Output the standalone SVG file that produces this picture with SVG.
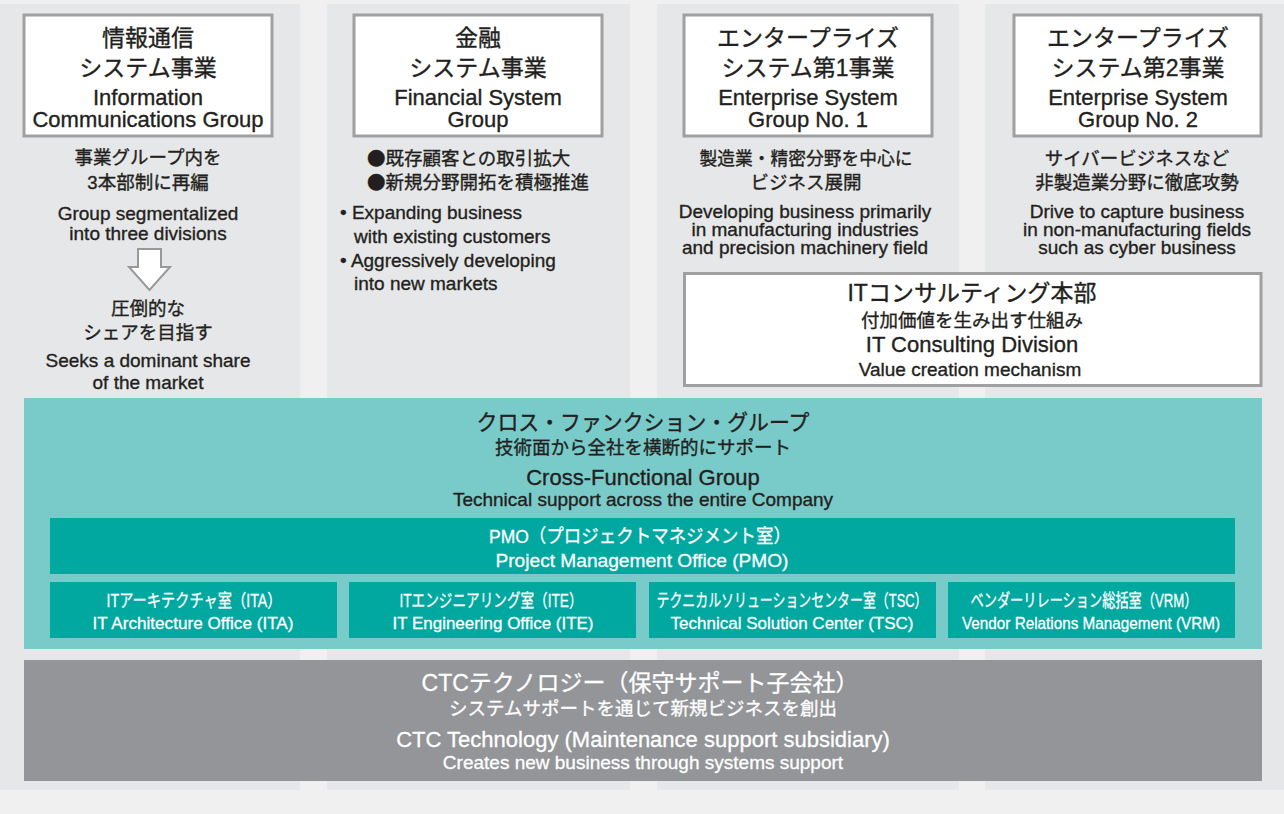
<svg xmlns="http://www.w3.org/2000/svg" width="1284" height="814" viewBox="0 0 1284 814">
<style>
text{font-family:"Liberation Sans","Noto Sans CJK JP",sans-serif;fill:#231f20;text-anchor:middle;stroke:#231f20;stroke-width:0.35}
.col{fill:#e6e7e8}
.hbox{fill:#fff;stroke:#a0a0a0;stroke-width:3}
.t1{font-size:23px}
.t2{font-size:22px}
.s1{font-size:18.5px}
.s2{font-size:19px}
.s3{font-size:19px}
.l{text-anchor:start}
.w{fill:#fff;stroke:#fff;stroke-width:0.3}
.dk{fill:#00a8a0}
.sb{font-size:17px}
.sj{font-size:18px}
.pm{font-size:19px}
.bul{font-family:"Noto Sans CJK JP",sans-serif}
</style>
<rect x="0" y="0" width="1284" height="814" fill="#f0f0f0"/>
<g id="columns">
<rect class="col" x="0" y="4" width="300" height="786"/>
<rect class="col" x="327" y="4" width="303" height="786"/>
<rect class="col" x="657" y="4" width="302" height="786"/>
<rect class="col" x="985" y="4" width="299" height="786"/>
</g>
<g id="info-comm">
<rect class="hbox" x="24" y="15" width="248" height="121"/>
<text x="148"><tspan class="t1" x="148" y="46">情報通信</tspan><tspan class="t1" x="148" y="76">システム事業</tspan><tspan class="t2" x="148" y="105">Information</tspan><tspan class="t2" x="148" y="127">Communications Group</tspan></text>
<text class="s1" x="148"><tspan x="148" y="164">事業グループ内を</tspan><tspan x="148" y="189">3本部制に再編</tspan></text>
<text class="s2" x="148"><tspan x="148" y="220">Group segmentalized</tspan><tspan x="148" y="240">into three divisions</tspan></text>
<text class="s1" x="148"><tspan x="148" y="315">圧倒的な</tspan><tspan x="148" y="339">シェアを目指す</tspan></text>
<text class="s2" x="148"><tspan x="148" y="367">Seeks a dominant share</tspan><tspan x="148" y="389">of the market</tspan></text>
</g>
<g id="financial">
<rect class="hbox" x="354" y="15" width="248" height="121"/>
<text x="478"><tspan class="t1" x="478" y="46">金融</tspan><tspan class="t1" x="478" y="76">システム事業</tspan><tspan class="t2" x="478" y="105">Financial System</tspan><tspan class="t2" x="478" y="127">Group</tspan></text>
<text class="s1 l" x="367"><tspan x="367" y="165"><tspan class="bul">●</tspan>既存顧客との取引拡大</tspan><tspan x="367" y="189"><tspan class="bul">●</tspan>新規分野開拓を積極推進</tspan></text>
<text class="s2 l" x="340"><tspan x="340" y="219">• Expanding business</tspan><tspan x="354" y="243">with existing customers</tspan><tspan x="340" y="267">• Aggressively developing</tspan><tspan x="354" y="290">into new markets</tspan></text>
</g>
<g id="enterprise1">
<rect class="hbox" x="684" y="15" width="248" height="121"/>
<text x="808"><tspan class="t1" x="808" y="46">エンタープライズ</tspan><tspan class="t1" x="808" y="76">システム第1事業</tspan><tspan class="t2" x="808" y="105">Enterprise System</tspan><tspan class="t2" x="808" y="127">Group No. 1</tspan></text>
<text class="s1" x="806"><tspan x="806" y="165" textLength="213" lengthAdjust="spacingAndGlyphs">製造業・精密分野を中心に</tspan><tspan x="806" y="189">ビジネス展開</tspan></text>
<text class="s3" x="805"><tspan x="805" y="218">Developing business primarily</tspan><tspan x="805" y="236">in manufacturing industries</tspan><tspan x="805" y="254">and precision machinery field</tspan></text>
</g>
<g id="enterprise2">
<rect class="hbox" x="1014" y="15" width="247" height="121"/>
<text x="1138"><tspan class="t1" x="1138" y="46">エンタープライズ</tspan><tspan class="t1" x="1138" y="76">システム第2事業</tspan><tspan class="t2" x="1138" y="105">Enterprise System</tspan><tspan class="t2" x="1138" y="127">Group No. 2</tspan></text>
<text class="s1" x="1137"><tspan x="1137" y="165">サイバービジネスなど</tspan><tspan x="1137" y="189">非製造業分野に徹底攻勢</tspan></text>
<text class="s3" x="1137"><tspan x="1137" y="218">Drive to capture business</tspan><tspan x="1137" y="236">in non-manufacturing fields</tspan><tspan x="1137" y="254">such as cyber business</tspan></text>
</g>
<g id="it-consulting">
<rect class="hbox" x="684.5" y="273.5" width="576.5" height="112"/>
<text x="972"><tspan class="t1" x="972" y="301">ITコンサルティング本部</tspan><tspan class="s1" x="972" y="327">付加価値を生み出す仕組み</tspan><tspan class="t2" x="972" y="352">IT Consulting Division</tspan><tspan class="s2" x="970" y="376">Value creation mechanism</tspan></text>
</g>
<g id="cross-functional">
<rect x="24" y="398" width="1238" height="251" fill="#79cbca"/>
<text x="643"><tspan style="font-size:21.5px" x="643" y="430" textLength="333" lengthAdjust="spacingAndGlyphs">クロス・ファンクション・グループ</tspan><tspan class="s1" x="643" y="454">技術面から全社を横断的にサポート</tspan><tspan class="t2" x="643" y="485">Cross-Functional Group</tspan><tspan class="s2" x="643" y="506">Technical support across the entire Company</tspan></text>
</g>
<g id="pmo">
<rect class="dk" x="50" y="518" width="1185" height="56"/>
<text class="pm w" x="640"><tspan x="640" y="543" textLength="302" lengthAdjust="spacingAndGlyphs">PMO（プロジェクトマネジメント室）</tspan><tspan x="642" y="567" textLength="293" lengthAdjust="spacingAndGlyphs">Project Management Office (PMO)</tspan></text>
</g>
<g id="ita">
<rect class="dk" x="50" y="582" width="287" height="56"/>
<text class="w" x="194"><tspan class="sj" x="194" y="607" textLength="175" lengthAdjust="spacingAndGlyphs">ITアーキテクチャ室（ITA）</tspan><tspan class="sb" x="193" y="629" textLength="201" lengthAdjust="spacingAndGlyphs">IT Architecture Office (ITA)</tspan></text>
</g>
<g id="ite">
<rect class="dk" x="349" y="582" width="287" height="56"/>
<text class="w" x="491"><tspan class="sj" x="491" y="607" textLength="183" lengthAdjust="spacingAndGlyphs">ITエンジニアリング室（ITE）</tspan><tspan class="sb" x="493" y="629" textLength="201" lengthAdjust="spacingAndGlyphs">IT Engineering Office (ITE)</tspan></text>
</g>
<g id="tsc">
<rect class="dk" x="649" y="582" width="287" height="56"/>
<text class="w" x="792"><tspan class="sj" x="792" y="607" textLength="271" lengthAdjust="spacingAndGlyphs">テクニカルソリューションセンター室（TSC）</tspan><tspan class="sb" x="792" y="629" textLength="243" lengthAdjust="spacingAndGlyphs">Technical Solution Center (TSC)</tspan></text>
</g>
<g id="vrm">
<rect class="dk" x="948" y="582" width="287" height="56"/>
<text class="w" x="1084"><tspan class="sj" x="1084" y="607" textLength="227" lengthAdjust="spacingAndGlyphs">ベンダーリレーション総括室（VRM）</tspan><tspan class="sb" x="1091" y="629" textLength="258" lengthAdjust="spacingAndGlyphs">Vendor Relations Management (VRM)</tspan></text>
</g>
<g id="ctc-technology">
<rect x="24" y="660" width="1238" height="121" fill="#939598"/>
<text class="w" x="640"><tspan class="t1" x="640" y="691">CTCテクノロジー（保守サポート子会社）</tspan><tspan class="s1" x="643" y="715">システムサポートを通じて新規ビジネスを創出</tspan><tspan class="t2" x="643" y="747">CTC Technology (Maintenance support subsidiary)</tspan><tspan class="s2" x="643" y="769">Creates new business through systems support</tspan></text>
</g>
<g id="connectors">
<path d="M138,249 H161 V267 H170 L149.5,290 L129,267 H138 Z" fill="#fff" stroke="#999" stroke-width="2" stroke-linejoin="miter"/>
</g>
</svg>
